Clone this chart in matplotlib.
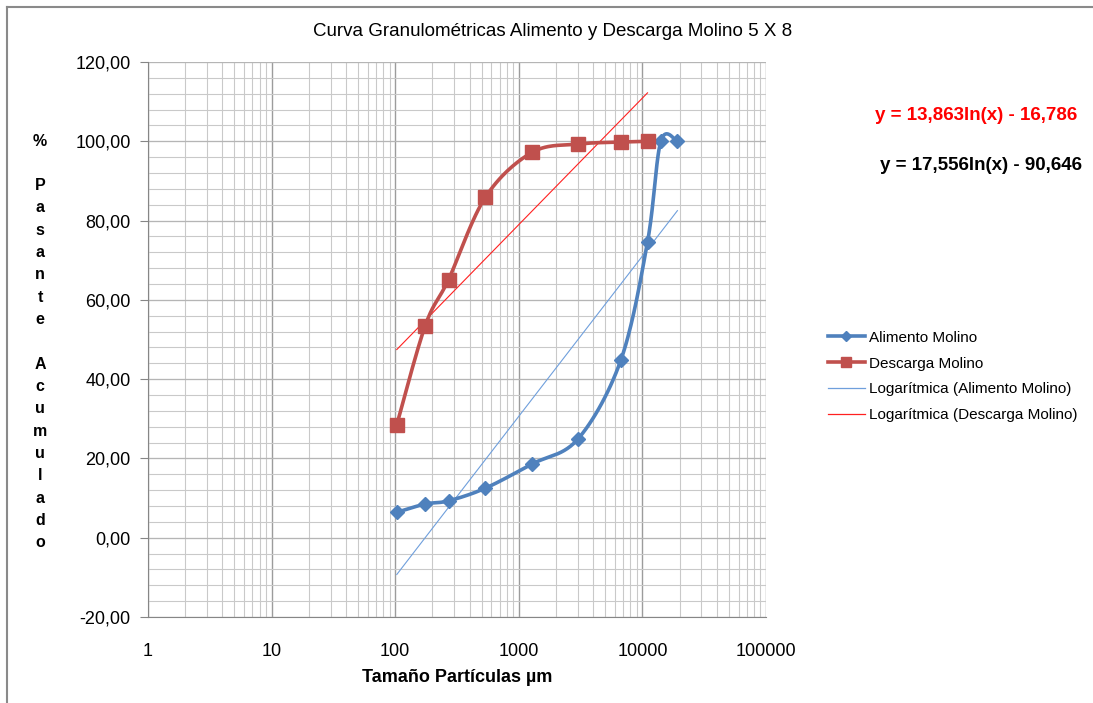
import numpy as np
import matplotlib
matplotlib.use("Agg")
import matplotlib.pyplot as plt
from matplotlib.ticker import FixedLocator, FuncFormatter, NullFormatter
from matplotlib.lines import Line2D

plt.rcParams['font.family'] = ['Liberation Sans', 'DejaVu Sans']

# datos
alimento_x = [103, 175, 270, 537, 1280, 3030, 6710, 11000, 14100, 19200]
alimento_y = [6.4, 8.5, 9.3, 12.5, 18.6, 25.0, 44.9, 74.6, 100.0, 100.0]
descarga_x = [103, 175, 270, 537, 1280, 3030, 6710, 11000]
descarga_y = [28.5, 53.5, 65.1, 85.9, 97.2, 99.3, 99.8, 100.0]

# coeficientes de las lineas de tendencia (y = a ln(x) + b)
trend_alim = (17.556, -90.646)
trend_desc = (13.863, -16.786)
eq_alim = "y = 17,556ln(x) - 90,646"
eq_desc = "y = 13,863ln(x) - 16,786"

y_ticks = [-20, 0, 20, 40, 60, 80, 100, 120]
x_ticks = [1, 10, 100, 1000, 10000, 100000]
ylabel_chars = list("%") + [""] + list("Pasante") + [""] + list("Acumulado")

BLUE = '#4f81bd'
RED = '#c0504d'
TREND_BLUE = '#6f9fdc'
TREND_RED = '#ff2020'


def smooth(xs, ys, n=30):
    # curva suavizada tipo Excel (bezier / Catmull-Rom en escala log)
    u = np.log10(xs)
    v = np.asarray(ys, dtype=float)
    pu = np.concatenate([[u[0]], u, [u[-1]]])
    pv = np.concatenate([[v[0]], v, [v[-1]]])
    out_u, out_v = [], []
    t = np.linspace(0, 1, n)
    for i in range(1, len(pu) - 2):
        p0, p1, p2, p3 = [np.array([pu[j], pv[j]]) for j in (i - 1, i, i + 1, i + 2)]
        c1 = p1 + (p2 - p0) / 6
        c2 = p2 - (p3 - p1) / 6
        b = ((1 - t) ** 3)[:, None] * p1 + (3 * (1 - t) ** 2 * t)[:, None] * c1 \
            + (3 * (1 - t) * t ** 2)[:, None] * c2 + (t ** 3)[:, None] * p2
        out_u.extend(b[:, 0])
        out_v.extend(b[:, 1])
    return 10 ** np.array(out_u), np.array(out_v)


W, H = 1093, 703
fig = plt.figure(figsize=(W / 100, H / 100), dpi=100)
ax = fig.add_axes([148 / W, 1 - 617 / H, (766 - 148) / W, (617 - 62) / H])

ax.set_xscale('log')
ax.set_xlim(1, 100000)
ax.set_ylim(-20, 120)

# cuadricula
minor_x = [m * 10 ** d for d in range(5) for m in range(2, 10)]
for xv in minor_x:
    ax.axvline(xv, color='#c9c9c9', lw=0.8, zorder=0)
for xv in x_ticks:
    ax.axvline(xv, color='#9c9c9c', lw=1.0, zorder=0)
for yv in np.arange(-20, 121, 4):
    ax.axhline(yv, color='#c9c9c9', lw=0.8, zorder=0)
for yv in y_ticks:
    ax.axhline(yv, color='#b5b5b5', lw=0.9, zorder=0)

# series suavizadas
sx, sy = smooth(alimento_x, alimento_y)
ax.plot(sx, sy, color=BLUE, lw=2.6, zorder=3, solid_capstyle='round')
ax.plot(alimento_x, alimento_y, ls='none', marker='D', ms=7, color=BLUE, zorder=4)
sx, sy = smooth(descarga_x, descarga_y)
ax.plot(sx, sy, color=RED, lw=2.6, zorder=3, solid_capstyle='round')
ax.plot(descarga_x, descarga_y, ls='none', marker='s', ms=10, color=RED, zorder=4)

# lineas de tendencia logaritmicas
tx = np.array([alimento_x[0], alimento_x[-1]], dtype=float)
ax.plot(tx, trend_alim[0] * np.log(tx) + trend_alim[1], color=TREND_BLUE, lw=0.8, zorder=2)
tx = np.array([descarga_x[0], descarga_x[-1]], dtype=float)
ax.plot(tx, trend_desc[0] * np.log(tx) + trend_desc[1], color=TREND_RED, lw=0.8, zorder=2)

# ejes
ax.xaxis.set_major_locator(FixedLocator(x_ticks))
ax.xaxis.set_minor_formatter(NullFormatter())
ax.xaxis.set_major_formatter(FuncFormatter(lambda v, p: f"{int(round(v))}"))
ax.tick_params(axis='x', which='both', length=0, pad=18.5, labelsize=13)
ax.yaxis.set_major_locator(FixedLocator(y_ticks))
ax.yaxis.set_major_formatter(FuncFormatter(lambda v, p: f"{v:.2f}".replace('.', ',')))
ax.tick_params(axis='y', which='major', length=6, color='#868686', pad=6.5, labelsize=13)
ax.tick_params(axis='y', which='minor', length=0)
for s in ['left', 'bottom']:
    ax.spines[s].set_color('#868686')
for s in ['top', 'right']:
    ax.spines[s].set_visible(False)

fig.text(457 / W, 1 - 677 / H, "Tamaño Partículas µm", ha='center', va='center',
         fontsize=13, fontweight='bold')

fig.text(553 / W, 1 - 32 / H, "Curva Granulométricas Alimento y Descarga Molino 5 X 8",
         ha='center', va='center', fontsize=13.5)

# etiqueta vertical letra por letra
y0, step = 141, 22.33
for i, ch in enumerate(ylabel_chars):
    if ch:
        fig.text(40 / W, 1 - (y0 + i * step) / H, ch, ha='center', va='center',
                 fontsize=11.5, fontweight='bold')

fig.text(1077 / W, 1 - 115 / H, eq_desc, ha='right', va='center', fontsize=13.5,
         fontweight='bold', color='#ff0000')
fig.text(1082 / W, 1 - 166 / H, eq_alim, ha='right', va='center', fontsize=13.5,
         fontweight='bold', color='black')

handles = [
    Line2D([], [], color=BLUE, lw=2.6, marker='D', ms=5),
    Line2D([], [], color=RED, lw=2.6, marker='s', ms=7),
    Line2D([], [], color=TREND_BLUE, lw=0.9),
    Line2D([], [], color=TREND_RED, lw=0.9),
]
labels = ["Alimento Molino", "Descarga Molino",
          "Logarítmica (Alimento Molino)", "Logarítmica (Descarga Molino)"]
fig.legend(handles, labels, loc='center left', bbox_to_anchor=(828 / W, 1 - 376.5 / H),
           frameon=False, fontsize=11, handlelength=2.4, handletextpad=0.26,
           labelspacing=0.78, borderaxespad=0, borderpad=0)

# borde del area del grafico
fig.add_artist(Line2D([7 / W, 7 / W], [0, 1 - 7 / H], color='#8a8a8a', lw=1.5,
                      transform=fig.transFigure))
fig.add_artist(Line2D([7 / W, 1], [1 - 7 / H, 1 - 7 / H], color='#8a8a8a', lw=1.5,
                      transform=fig.transFigure))

fig.savefig("out.png", dpi=100)
